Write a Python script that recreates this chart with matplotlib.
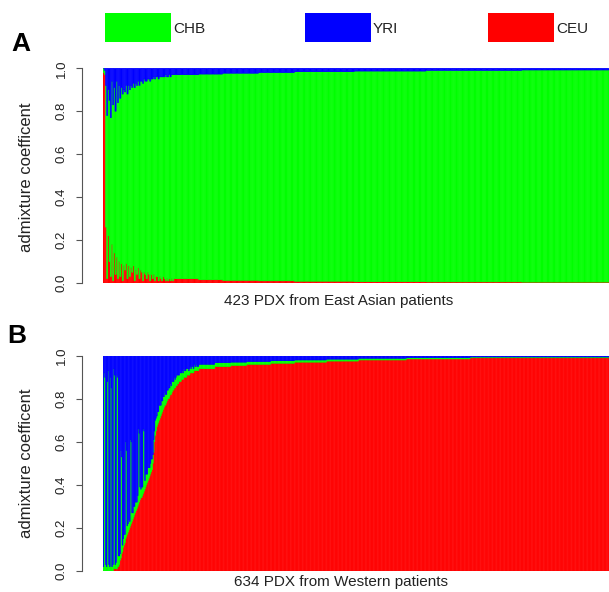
import numpy as np
import matplotlib.pyplot as plt

plt.rcParams["font.family"] = ["Liberation Sans", "DejaVu Sans"]

COLORS = {"CHB": "#00ff00", "YRI": "#0000ff", "CEU": "#ff0000"}

# ---- panel A: 423 PDX from East Asian patients (sorted by CHB ascending)
# first 60 samples read one by one, the rest as runs (count, value)
ceu_a_head = [0.98, 0.97, 0.26, 0.02, 0.22, 0.10, 0.03, 0.18, 0.01, 0.14,
              0.04, 0.12, 0.02, 0.10, 0.03, 0.09, 0.01, 0.08, 0.06, 0.09,
              0.02, 0.08, 0.03, 0.07, 0.05, 0.08, 0.01, 0.06, 0.04, 0.07,
              0.02, 0.06, 0.05, 0.01, 0.05, 0.04, 0.02, 0.05, 0.04, 0.01,
              0.04, 0.02, 0.04, 0.01, 0.03, 0.03, 0.01, 0.03, 0.02, 0.01,
              0.03, 0.02, 0.01, 0.02, 0.01, 0.02, 0.01, 0.02, 0.01, 0.02]
yri_a_head = [0.00, 0.01, 0.08, 0.22, 0.10, 0.15, 0.23, 0.06, 0.17, 0.09,
              0.20, 0.06, 0.16, 0.08, 0.14, 0.09, 0.12, 0.10, 0.11, 0.08,
              0.12, 0.08, 0.10, 0.08, 0.09, 0.07, 0.09, 0.07, 0.08, 0.06,
              0.08, 0.06, 0.06, 0.07, 0.05, 0.06, 0.06, 0.05, 0.05, 0.06,
              0.05, 0.05, 0.04, 0.05, 0.04, 0.04, 0.05, 0.04, 0.04, 0.04,
              0.04, 0.04, 0.03, 0.04, 0.04, 0.03, 0.04, 0.03, 0.03, 0.03]
ceu_a_runs = [(20, 0.020), (20, 0.015), (30, 0.012), (30, 0.010),
              (50, 0.008), (60, 0.006), (80, 0.005), (73, 0.004)]
yri_a_runs = [(20, 0.030), (20, 0.027), (30, 0.023), (30, 0.020),
              (50, 0.016), (60, 0.013), (80, 0.010), (73, 0.008)]

# ---- panel B: 634 PDX from Western patients (sorted by CEU ascending)
ceu_b_head = [0.00, 0.00, 0.00, 0.00, 0.00, 0.00, 0.00, 0.00, 0.00, 0.00,
              0.00, 0.00, 0.00, 0.01, 0.01, 0.01, 0.01, 0.01, 0.02, 0.02,
              0.03, 0.05, 0.06, 0.08, 0.09, 0.11, 0.12, 0.13, 0.15, 0.16,
              0.17, 0.18, 0.19, 0.20, 0.21, 0.22, 0.23, 0.24, 0.25, 0.26,
              0.27, 0.28, 0.29, 0.30, 0.31, 0.32, 0.33, 0.34, 0.34, 0.35,
              0.36, 0.37, 0.38, 0.39, 0.40, 0.41, 0.42, 0.43, 0.44, 0.45,
              0.46, 0.47, 0.50, 0.55, 0.60, 0.63, 0.65, 0.67, 0.68, 0.69,
              0.70, 0.71, 0.72, 0.73, 0.74, 0.75, 0.76, 0.77, 0.77, 0.78,
              0.79, 0.80, 0.80, 0.81, 0.82, 0.82, 0.83, 0.84, 0.84, 0.85,
              0.85, 0.86, 0.86, 0.87, 0.87, 0.88, 0.88, 0.88, 0.89, 0.89,
              0.89, 0.90, 0.90, 0.90, 0.90, 0.91, 0.91, 0.91, 0.91, 0.92,
              0.92, 0.92, 0.92, 0.92, 0.93, 0.93, 0.93, 0.93, 0.93, 0.93]
chb_b_head = [0.02, 0.92, 0.90, 0.03, 0.02, 0.88, 0.93, 0.03, 0.02, 0.90,
              0.85, 0.02, 0.03, 0.93, 0.90, 0.02, 0.03, 0.90, 0.88, 0.05,
              0.04, 0.03, 0.50, 0.45, 0.03, 0.04, 0.05, 0.04, 0.45, 0.40,
              0.04, 0.04, 0.05, 0.03, 0.40, 0.38, 0.04, 0.03, 0.05, 0.04,
              0.05, 0.04, 0.03, 0.05, 0.35, 0.32, 0.06, 0.04, 0.05, 0.04,
              0.30, 0.28, 0.04, 0.06, 0.05, 0.04, 0.06, 0.05, 0.04, 0.05,
              0.06, 0.05, 0.04, 0.06, 0.05, 0.07, 0.06, 0.05, 0.06, 0.05,
              0.07, 0.06, 0.05, 0.06, 0.05, 0.06, 0.05, 0.06, 0.05, 0.04,
              0.05, 0.04, 0.05, 0.04, 0.05, 0.04, 0.05, 0.04, 0.04, 0.05,
              0.04, 0.04, 0.05, 0.04, 0.04, 0.03, 0.04, 0.04, 0.03, 0.04,
              0.03, 0.04, 0.03, 0.03, 0.04, 0.03, 0.03, 0.02, 0.03, 0.03,
              0.02, 0.03, 0.03, 0.02, 0.03, 0.02, 0.02, 0.03, 0.02, 0.02]
ceu_b_runs = [(20, 0.94), (20, 0.95), (20, 0.955), (30, 0.96), (30, 0.965),
              (40, 0.97), (40, 0.975), (60, 0.98), (80, 0.985), (174, 0.99)]
chb_b_runs = [(20, 0.020), (20, 0.018), (20, 0.015), (30, 0.013), (30, 0.012),
              (40, 0.010), (40, 0.009), (60, 0.008), (80, 0.006), (174, 0.004)]

xlabel_a = "423 PDX from East Asian patients"
xlabel_b = "634 PDX from Western patients"
ylabel = "admixture coefficent"


def expand(head, runs):
    vals = list(head)
    for count, v in runs:
        vals += [v] * count
    return np.array(vals)


def admix_bars(ax, ceu, chb, yri):
    x = np.arange(len(ceu))
    kw = dict(width=1.0, linewidth=0.35, snap=False)
    ax.bar(x, ceu, color=COLORS["CEU"], edgecolor=COLORS["CEU"], **kw)
    ax.bar(x, chb, bottom=ceu, color=COLORS["CHB"], edgecolor=COLORS["CHB"], **kw)
    ax.bar(x, yri, bottom=ceu + chb, color=COLORS["YRI"], edgecolor=COLORS["YRI"], **kw)
    ax.set_xlim(-0.5, len(ceu) - 0.5)
    ax.set_ylim(0, 1)
    for s in ["top", "right", "bottom"]:
        ax.spines[s].set_visible(False)
    ax.spines["left"].set_position(("outward", 15))
    ax.spines["left"].set_bounds(0, 1)
    ax.spines["left"].set_color("#555555")
    ax.set_xticks([])
    ax.set_yticks([0, 0.2, 0.4, 0.6, 0.8, 1.0])
    ax.set_yticklabels(["0.0", "0.2", "0.4", "0.6", "0.8", "1.0"],
                       rotation=90, va="center", fontsize=9.5, color="#222222")
    ax.tick_params(axis="y", length=4.5, color="#555555", pad=6)


ceu_a = expand(ceu_a_head, ceu_a_runs)
yri_a = expand(yri_a_head, yri_a_runs)
chb_a = 1 - ceu_a - yri_a

ceu_b = expand(ceu_b_head, ceu_b_runs)
chb_b = expand(chb_b_head, chb_b_runs)
yri_b = 1 - ceu_b - chb_b

W, H = 609, 592
fig = plt.figure(figsize=(W / 100, H / 100), dpi=100)

ax_a = fig.add_axes([103 / W, 1 - 283 / H, 1 - 103 / W, (283 - 68.3) / H])
admix_bars(ax_a, ceu_a, chb_a, yri_a)
ax_b = fig.add_axes([103 / W, 1 - 571 / H, 1 - 103 / W, (571 - 355.7) / H])
admix_bars(ax_b, ceu_b, chb_b, yri_b)

# y labels, x labels, panel letters
for yc in [177, 463]:
    fig.text(27 / W, 1 - yc / H, ylabel, rotation=90, ha="center", va="center",
             fontsize=12, color="#222222")
fig.text(339 / W, 1 - 301 / H, xlabel_a, ha="center", va="center",
         fontsize=11, color="#222222")
fig.text(341 / W, 1 - 582 / H, xlabel_b, ha="center", va="center",
         fontsize=11, color="#222222")
fig.text(21 / W, 1 - 44 / H, "A", ha="center", va="center",
         fontsize=19, fontweight="bold")
fig.text(17 / W, 1 - 336 / H, "B", ha="center", va="center",
         fontsize=19, fontweight="bold")

# legend boxes along the top
legend_items = [("CHB", 105), ("YRI", 305), ("CEU", 488)]
for name, x0 in legend_items:
    fig.patches.append(plt.Rectangle((x0 / W, 1 - 42 / H), 66 / W, 29 / H,
                                     transform=fig.transFigure,
                                     facecolor=COLORS[name], edgecolor="none"))
    fig.text((x0 + 68) / W, 1 - 29 / H, name, ha="left", va="center",
             fontsize=11, color="#222222")

fig.savefig("out.png", dpi=100)
